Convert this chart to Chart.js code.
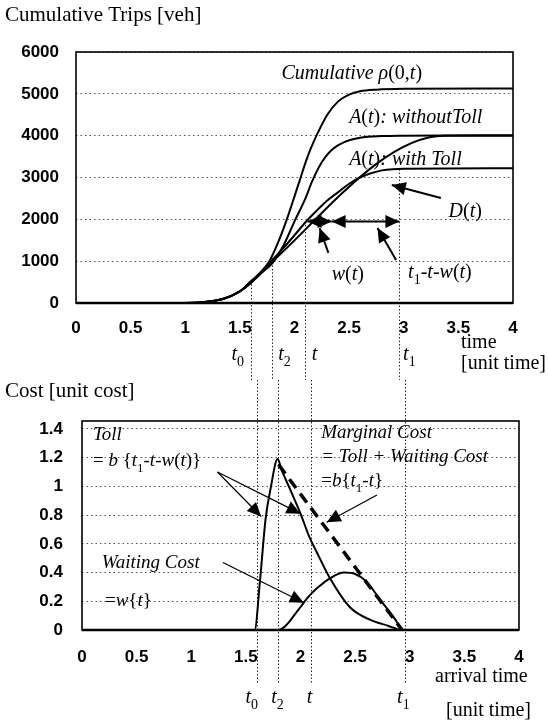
<!DOCTYPE html>
<html>
<head>
<meta charset="utf-8">
<script src="https://cdn.jsdelivr.net/npm/chart.js@4"></script>
<style>
  html, body { margin: 0; padding: 0; background: #fff; }
  #wrap { position: relative; width: 548px; height: 720px; }
  canvas { position: absolute; left: 0; }
  #tripsChart { top: 0; }
  #costChart { top: 380px; }
</style>
</head>
<body>
<div id="wrap">
  <canvas id="tripsChart" width="548" height="380"></canvas>
  <canvas id="costChart" width="548" height="340"></canvas>
</div>
<script>
"use strict";

// upper panel: cumulative trips [veh]
const cumT = [0, 1.0, 1.2, 1.35, 1.5, 1.6, 1.7, 1.77, 1.85, 1.93, 2.0, 2.05, 2.1, 2.15, 2.21, 2.3, 2.4, 2.5, 2.6, 2.75, 3.0, 4.0];
const cumV = [0, 0, 30, 100, 280, 480, 760, 1000, 1450, 2000, 2550, 2950, 3350, 3700, 4050, 4500, 4820, 4980, 5060, 5100, 5120, 5130];

const noTollT = [0, 1.0, 1.2, 1.35, 1.5, 1.6, 1.7, 1.8, 1.9, 2.0, 2.1, 2.16, 2.22, 2.28, 2.35, 2.45, 2.6, 2.8, 3.0, 4.0];
const noTollV = [0, 0, 30, 100, 280, 480, 720, 960, 1380, 1950, 2500, 2900, 3230, 3480, 3680, 3840, 3950, 3990, 4000, 4010];

const tollT = [0, 1.0, 1.2, 1.35, 1.5, 1.6, 1.7, 1.8, 1.9, 2.0, 2.1, 2.2, 2.3, 2.4, 2.5, 2.6, 2.7, 2.8, 2.9, 3.0, 4.0];
const tollV = [0, 0, 30, 100, 280, 500, 760, 1040, 1320, 1620, 1930, 2200, 2450, 2650, 2850, 3000, 3100, 3170, 3200, 3210, 3220];

const departT = [0, 1.0, 1.2, 1.35, 1.5, 1.6, 3.37, 4.0];
const departV = [0, 0, 30, 100, 280, 520, 4000, 4000];

const tripsTicks = [0, 1000, 2000, 3000, 4000, 5000, 6000];

// lower panel: cost [unit cost]
const tollCostT = [0, 1.58, 1.63, 1.68, 1.73, 1.79, 1.83, 1.91, 2.0, 2.08, 2.15, 2.27, 2.45, 2.64, 2.8, 2.93, 4.0];
const tollCostV = [0, 0, 0.35, 0.77, 1.0, 1.19, 1.11, 0.97, 0.81, 0.65, 0.54, 0.36, 0.16, 0.07, 0.03, 0, 0];

const waitT = [0, 1.8, 1.85, 1.9, 1.95, 2.0, 2.06, 2.15, 2.27, 2.4, 2.5, 2.6, 2.73, 2.87, 2.93, 4.0];
const waitV = [0, 0, 0.02, 0.06, 0.11, 0.16, 0.22, 0.29, 0.36, 0.40, 0.39, 0.34, 0.21, 0.07, 0, 0];

const marginalT = [1.8, 2.93];
const marginalV = [1.15, 0];

const costTicks = [0, 0.2, 0.4, 0.6, 0.8, 1, 1.2, 1.4];

const timeTicks = [0, 0.5, 1, 1.5, 2, 2.5, 3, 3.5, 4];

// t0, t2, t, t1
const markerT = [1.6, 1.79, 2.1, 2.96];
const markerSub = ['0', '2', '', '1'];
const markerTopV = [450, 900, 1950, 3200];

const pts = (ts, vs) => ts.map((t, i) => ({ x: t, y: vs[i] }));

const SERIF = '"Liberation Serif", "Times New Roman", serif';
const SANS = '"Liberation Sans", Arial, sans-serif';

function drawRich(ctx, parts, x, y, size, align) {
    const fontOf = f => (f.includes('i') ? 'italic ' : '') + (f.includes('s') ? Math.round(size * 0.68) : size) + 'px ' + SERIF;
    let w = 0;
    parts.forEach(([t, f]) => { ctx.font = fontOf(f); w += ctx.measureText(t).width; });
    let cx = align === 'center' ? x - w / 2 : x;
    ctx.textAlign = 'left';
    ctx.textBaseline = 'alphabetic';
    ctx.fillStyle = '#000';
    parts.forEach(([t, f]) => {
        ctx.font = fontOf(f);
        ctx.fillText(t, cx, y + (f.includes('s') ? size * 0.28 : 0));
        cx += ctx.measureText(t).width;
    });
}

function drawArrow(ctx, x1, y1, x2, y2, width, len, half, both) {
    ctx.lineWidth = width;
    ctx.beginPath();
    ctx.moveTo(x1, y1);
    ctx.lineTo(x2, y2);
    ctx.stroke();
    const head = (ax, ay, bx, by) => {
        const ang = Math.atan2(by - ay, bx - ax);
        ctx.beginPath();
        ctx.moveTo(bx, by);
        ctx.lineTo(bx - len * Math.cos(ang) + half * Math.sin(ang), by - len * Math.sin(ang) - half * Math.cos(ang));
        ctx.lineTo(bx - len * Math.cos(ang) - half * Math.sin(ang), by - len * Math.sin(ang) + half * Math.cos(ang));
        ctx.closePath();
        ctx.fill();
    };
    head(x1, y1, x2, y2);
    if (both) head(x2, y2, x1, y1);
}

const overlay = {
    id: 'overlay',
    beforeDatasetsDraw(chart, args, opts) {
        const { ctx, scales: { x, y } } = chart;
        ctx.save();
        // dotted t-marker lines, running on into the other panel
        ctx.strokeStyle = '#222';
        ctx.lineWidth = 1;
        ctx.setLineDash([1.5, 2]);
        markerT.forEach((t, i) => {
            const px = Math.round(x.getPixelForValue(t)) + 0.5;
            const top = opts.markerFromValue ? y.getPixelForValue(markerTopV[i]) : 0;
            ctx.beginPath();
            ctx.moveTo(px, top);
            ctx.lineTo(px, opts.markerEnd);
            ctx.stroke();
        });
        ctx.setLineDash([]);
        markerT.forEach((t, i) => {
            const px = x.getPixelForValue(t) + opts.markerDx[i];
            const parts = [['t', 'i']];
            if (markerSub[i]) parts.push([markerSub[i], 's']);
            drawRich(ctx, parts, px, opts.markerY, 20, 'center');
        });
        opts.texts.forEach(tx => {
            drawRich(ctx, tx.parts, x.getPixelForValue(tx.x), y.getPixelForValue(tx.y), opts.textSize, 'left');
        });
        opts.labels.forEach(l => drawRich(ctx, l.parts, l.px, l.py, l.size || 21, 'left'));
        ctx.restore();
    },
    afterDatasetsDraw(chart, args, opts) {
        const { ctx, chartArea: a, scales: { x, y } } = chart;
        ctx.save();
        ctx.strokeStyle = '#000';
        ctx.fillStyle = '#000';
        ctx.lineWidth = 1.6;
        ctx.strokeRect(a.left, a.top, a.right - a.left, a.bottom - a.top);
        ctx.lineWidth = 2.6;
        ctx.beginPath();
        ctx.moveTo(a.left, a.bottom);
        ctx.lineTo(a.right, a.bottom);
        ctx.stroke();
        opts.arrows.forEach(ar => {
            drawArrow(ctx,
                x.getPixelForValue(ar.from[0]), y.getPixelForValue(ar.from[1]),
                x.getPixelForValue(ar.to[0]), y.getPixelForValue(ar.to[1]),
                opts.arrowWidth, opts.headLen, opts.headHalf, ar.both);
        });
        ctx.restore();
    }
};

const tickFont = { family: SANS, size: 17, weight: 'bold' };
const lineStyle = { borderColor: '#000', borderWidth: 2, pointRadius: 0, cubicInterpolationMode: 'monotone', fill: false };
const setTicks = list => s => { s.ticks = list.map(v => ({ value: v })); };

document.addEventListener('DOMContentLoaded', function () {
    new Chart(document.getElementById('tripsChart'), {
        type: 'line',
        data: {
            datasets: [
                { ...lineStyle, data: pts(cumT, cumV) },
                { ...lineStyle, data: pts(noTollT, noTollV) },
                { ...lineStyle, data: pts(tollT, tollV) },
                { ...lineStyle, data: pts(departT, departV) }
            ]
        },
        options: {
            responsive: false,
            animation: false,
            layout: { padding: { left: 0, right: 35, top: 52, bottom: 32 } },
            plugins: {
                legend: { display: false },
                tooltip: { enabled: false },
                overlay: {
                    markerFromValue: true,
                    markerEnd: 380,
                    markerY: 360,
                    markerDx: [-13, 13, 9, 10],
                    textSize: 20,
                    texts: [
                        { x: 1.88, y: 5360, parts: [['Cumulative ', 'i'], ['ρ', 'i'], ['(0,', ''], ['t', 'i'], [')', '']] },
                        { x: 2.5, y: 4310, parts: [['A', 'i'], ['(', ''], ['t', 'i'], [')', ''], [': withoutToll', 'i']] },
                        { x: 2.5, y: 3300, parts: [['A', 'i'], ['(', ''], ['t', 'i'], [')', ''], [': with Toll', 'i']] },
                        { x: 3.41, y: 2060, parts: [['D', 'i'], ['(', ''], ['t', 'i'], [')', '']] },
                        { x: 2.34, y: 550, parts: [['w', 'i'], ['(', ''], ['t', 'i'], [')', '']] },
                        { x: 3.04, y: 600, parts: [['t', 'i'], ['1', 's'], ['-', ''], ['t', 'i'], ['-', ''], ['w', 'i'], ['(', ''], ['t', 'i'], [')', '']] }
                    ],
                    labels: [
                        { px: 5, py: 21, parts: [['Cumulative Trips [veh]', '']] },
                        { px: 461, py: 348, size: 20, parts: [['time', '']] },
                        { px: 461, py: 369, size: 20, parts: [['[unit time]', '']] }
                    ],
                    arrowWidth: 2,
                    headLen: 14,
                    headHalf: 6.5,
                    arrows: [
                        { from: [3.34, 2510], to: [2.89, 2820] },
                        { from: [2.31, 1200], to: [2.23, 1790] },
                        { from: [2.93, 1030], to: [2.76, 1790] },
                        { from: [2.12, 1950], to: [2.34, 1950], both: true },
                        { from: [2.34, 1950], to: [2.96, 1950], both: true }
                    ]
                }
            },
            scales: {
                x: {
                    type: 'linear', min: 0, max: 4,
                    afterBuildTicks: setTicks(timeTicks),
                    ticks: { color: '#000', font: tickFont, padding: 7, maxRotation: 0, callback: v => String(v) },
                    grid: { display: false },
                    border: { display: false },
                    afterFit: s => { s.height = 45; }
                },
                y: {
                    min: 0, max: 6000,
                    afterBuildTicks: setTicks(tripsTicks),
                    ticks: { color: '#000', font: tickFont, padding: 17, callback: v => String(v) },
                    grid: { color: '#555', lineWidth: 1, drawTicks: false },
                    border: { display: false, dash: [1.5, 3] },
                    afterFit: s => { s.width = 76; }
                }
            }
        },
        plugins: [overlay]
    });

    new Chart(document.getElementById('costChart'), {
        type: 'line',
        data: {
            datasets: [
                { ...lineStyle, data: pts(tollCostT, tollCostV) },
                { ...lineStyle, data: pts(waitT, waitV) },
                { ...lineStyle, borderWidth: 3.5, borderDash: [11, 7], cubicInterpolationMode: 'default', data: pts(marginalT, marginalV) }
            ]
        },
        options: {
            responsive: false,
            animation: false,
            layout: { padding: { left: 0, right: 29, top: 41, bottom: 45 } },
            plugins: {
                legend: { display: false },
                tooltip: { enabled: false },
                overlay: {
                    markerFromValue: false,
                    markerEnd: 303,
                    markerY: 323,
                    markerDx: [-5, 0, -2, -2],
                    textSize: 19,
                    texts: [
                        { x: 0.1, y: 1.32, parts: [['Toll', 'i']] },
                        { x: 0.1, y: 1.14, parts: [['= ', ''], ['b', 'i'], [' {', ''], ['t', 'i'], ['1', 's'], ['-', ''], ['t', 'i'], ['-', ''], ['w', 'i'], ['(', ''], ['t', 'i'], [')}', '']] },
                        { x: 2.19, y: 1.34, parts: [['Marginal Cost', 'i']] },
                        { x: 2.19, y: 1.17, parts: [['= Toll + Waiting Cost', 'i']] },
                        { x: 2.19, y: 1.0, parts: [['=', ''], ['b', 'i'], ['{', ''], ['t', 'i'], ['1', 's'], ['-', ''], ['t', 'i'], ['}', '']] },
                        { x: 0.18, y: 0.43, parts: [['Waiting Cost', 'i']] },
                        { x: 0.21, y: 0.17, parts: [['=', ''], ['w', 'i'], ['{', ''], ['t', 'i'], ['}', '']] }
                    ],
                    labels: [
                        { px: 5, py: 17, parts: [['Cost [unit cost]', '']] },
                        { px: 435, py: 302, size: 20, parts: [['arrival time', '']] },
                        { px: 446, py: 336, size: 20, parts: [['[unit time]', '']] }
                    ],
                    arrowWidth: 1.2,
                    headLen: 14,
                    headHalf: 6.5,
                    arrows: [
                        { from: [1.24, 1.10], to: [1.64, 0.79] },
                        { from: [1.24, 1.10], to: [2.0, 0.81] },
                        { from: [2.7, 0.94], to: [2.24, 0.75] },
                        { from: [1.29, 0.47], to: [2.03, 0.19] }
                    ]
                }
            },
            scales: {
                x: {
                    type: 'linear', min: 0, max: 4,
                    afterBuildTicks: setTicks(timeTicks),
                    ticks: { color: '#000', font: tickFont, padding: 9, maxRotation: 0, callback: v => String(v) },
                    grid: { display: false },
                    border: { display: false },
                    afterFit: s => { s.height = 45; }
                },
                y: {
                    min: 0, max: 1.455,
                    afterBuildTicks: setTicks(costTicks),
                    ticks: { color: '#000', font: tickFont, padding: 19, callback: v => String(v) },
                    grid: { color: '#555', lineWidth: 1, drawTicks: false },
                    border: { display: false, dash: [1.5, 3] },
                    afterFit: s => { s.width = 82; }
                }
            }
        },
        plugins: [overlay]
    });
});
</script>
</body>
</html>
